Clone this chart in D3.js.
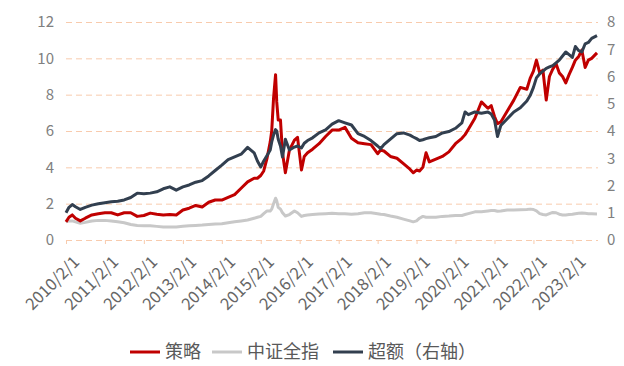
<!DOCTYPE html>
<html>
<head>
<meta charset="utf-8">
<script src="https://cdn.jsdelivr.net/npm/d3@7"></script>
<style>
  body { margin: 0; background: #fff; }
  text { font-family: "Noto Sans CJK SC", "Noto Sans", sans-serif; }
</style>
</head>
<body>
<div class="chart"></div>
<script>
// values (strategy and CSI on left axis, excess on right axis)
var dates = [
  "2010-02-01","2010-03-01","2010-04-01","2010-05-01","2010-06-15","2010-08-01","2010-10-01","2010-12-01",
  "2011-02-01","2011-04-01","2011-06-01","2011-08-01","2011-10-01","2011-12-01",
  "2012-02-01","2012-04-01","2012-06-01","2012-08-01","2012-10-01","2012-12-01",
  "2013-02-01","2013-04-01","2013-06-01","2013-08-01","2013-10-01","2013-12-01",
  "2014-02-01","2014-04-01","2014-06-01","2014-08-01","2014-10-01","2014-12-01",
  "2015-01-01","2015-02-01","2015-03-01","2015-04-01","2015-05-01","2015-05-15","2015-06-01","2015-06-20",
  "2015-07-01","2015-07-15","2015-08-05","2015-08-24","2015-09-20","2015-10-28","2015-12-14",
  "2016-01-12","2016-02-18","2016-03-15","2016-04-15","2016-06-01","2016-08-01","2016-10-01","2016-12-01",
  "2017-02-01","2017-04-01","2017-06-01","2017-08-01","2017-10-01","2017-12-01",
  "2018-02-01","2018-03-01","2018-04-01","2018-06-01","2018-08-01","2018-10-01","2018-12-01",
  "2019-01-01","2019-02-01","2019-03-01","2019-04-01","2019-05-01","2019-06-01","2019-08-01","2019-10-01","2019-12-01",
  "2020-02-01","2020-04-01","2020-05-01","2020-06-01","2020-08-01","2020-10-01","2020-12-01",
  "2021-01-01","2021-02-01","2021-03-01","2021-04-01","2021-06-01","2021-08-01","2021-10-01","2021-12-01",
  "2022-01-01","2022-02-01","2022-03-01","2022-04-01","2022-05-01","2022-06-01","2022-07-01","2022-08-01",
  "2022-09-01","2022-10-01","2022-11-01","2022-12-01",
  "2023-01-01","2023-02-01","2023-03-01","2023-04-01","2023-05-01","2023-06-01","2023-07-01","2023-08-01","2023-09-20"
];

var strategy = [
  1.0, 1.25, 1.38, 1.2, 1.05, 1.2, 1.38, 1.45,
  1.5, 1.5, 1.38, 1.5, 1.5, 1.3,
  1.35, 1.48, 1.42, 1.38, 1.4, 1.38,
  1.65, 1.75, 1.9, 1.82, 2.08, 2.2,
  2.2, 2.35, 2.5, 2.85, 3.2, 3.4,
  3.4, 3.55, 3.8, 4.5, 5.4, 6.0, 7.8, 9.1,
  7.6, 6.6, 6.6, 4.8, 3.7, 4.95, 5.5,
  5.65, 3.85, 4.6, 4.8, 5.0, 5.3, 5.7, 6.05,
  6.05, 6.2, 5.6, 5.35, 5.3, 5.25,
  4.75, 4.95, 4.9, 4.6, 4.5, 4.2, 3.9,
  3.7, 3.85, 3.8, 4.0, 4.8, 4.3, 4.45, 4.6, 4.85,
  5.3, 5.6, 5.8, 6.1, 6.7, 7.6, 7.25,
  7.4, 6.8, 6.4, 6.5, 7.1, 7.7, 8.4, 8.3,
  8.9, 9.3, 9.9, 9.2, 9.35, 7.7, 9.0, 9.4,
  9.7, 9.2, 9.0, 8.65,
  9.1, 9.5, 9.9, 10.1, 10.45, 9.5, 9.9, 10.0, 10.3
];

var csiAll = [
  1.0, 1.05, 1.05, 1.0, 0.92, 0.97, 1.05, 1.08,
  1.08, 1.05, 1.0, 0.95, 0.85, 0.8,
  0.78, 0.78, 0.75, 0.72, 0.72, 0.72,
  0.76, 0.78, 0.8, 0.82, 0.85, 0.88,
  0.9, 0.95, 1.0, 1.05, 1.1, 1.2,
  1.25, 1.3, 1.45, 1.6, 1.6, 1.7, 2.0, 2.3,
  2.15, 1.8, 1.7, 1.5, 1.32, 1.4, 1.6,
  1.5, 1.3, 1.35, 1.38, 1.4, 1.43, 1.45, 1.47,
  1.45, 1.45, 1.42, 1.45, 1.5, 1.5,
  1.45, 1.42, 1.4, 1.32, 1.25, 1.15, 1.05,
  1.0, 1.05, 1.2, 1.3, 1.25, 1.25, 1.25, 1.3, 1.32,
  1.35, 1.35, 1.4, 1.45, 1.55, 1.55, 1.6,
  1.62, 1.62, 1.58, 1.6, 1.65, 1.65, 1.67, 1.68,
  1.7, 1.68, 1.6, 1.45, 1.4, 1.38, 1.45, 1.52,
  1.5, 1.42, 1.38, 1.38,
  1.4, 1.42, 1.45, 1.47, 1.48, 1.47, 1.45, 1.44, 1.43
];

var excess = [
  1.0, 1.2, 1.3, 1.22, 1.12, 1.2, 1.28, 1.33,
  1.37, 1.4, 1.42, 1.47, 1.56, 1.72,
  1.7, 1.72, 1.77, 1.88, 1.95, 1.83,
  1.95, 2.02, 2.12, 2.18, 2.35, 2.55,
  2.75, 2.95, 3.05, 3.15, 3.4, 3.2,
  2.9, 2.68, 2.9, 3.1, 3.3, 3.6, 3.85, 4.05,
  4.0, 3.7, 3.45, 3.05, 3.7, 3.3, 3.41,
  3.45, 3.38, 3.55, 3.65, 3.75, 3.93, 4.04, 4.25,
  4.38, 4.3, 4.22, 3.9, 3.8, 3.65,
  3.45, 3.35, 3.5, 3.7, 3.9, 3.93, 3.85,
  3.78, 3.72, 3.65, 3.68, 3.72, 3.75, 3.8, 3.93, 3.98,
  4.1, 4.3, 4.7, 4.6, 4.7, 4.65, 4.7,
  4.62, 4.4, 3.8, 4.2, 4.45, 4.7, 4.85, 5.1,
  5.3, 5.6, 5.95, 6.1, 6.2, 6.3, 6.35, 6.4,
  6.5, 6.6, 6.75, 6.9,
  6.8, 6.7, 7.1, 6.95, 6.9, 7.2, 7.25, 7.4, 7.5
];

var xTickLabels = ["2010/2/1","2011/2/1","2012/2/1","2013/2/1","2014/2/1","2015/2/1","2016/2/1",
  "2017/2/1","2018/2/1","2019/2/1","2020/2/1","2021/2/1","2022/2/1","2023/2/1"];
var leftTicks = [0, 2, 4, 6, 8, 10, 12];
var rightTicks = [0, 1, 2, 3, 4, 5, 6, 7, 8];
var seriesNames = ["策略", "中证全指", "超额（右轴）"];

var svgWidth = 624;
var svgHeight = 366;
var plotLeft = 66, plotRight = 597, plotTop = 22, plotBottom = 240;

var parseDate = d3.timeParse("%Y-%m-%d");
var parseTick = d3.timeParse("%Y/%m/%d");

var svg = d3.select(".chart")
  .append("svg")
  .attr("width", svgWidth)
  .attr("height", svgHeight);

var xScale = d3.scaleTime()
  .domain([parseDate(dates[0]), parseDate(dates[dates.length - 1])])
  .range([plotLeft, plotRight]);

var yLeft = d3.scaleLinear().domain([0, 12]).range([plotBottom, plotTop]);
var yRight = d3.scaleLinear().domain([0, 8]).range([plotBottom, plotTop]);

// dashed gridlines
var grid = svg.append("g")
  .attr("transform", `translate(${plotLeft}, 0)`)
  .call(d3.axisLeft(yLeft).tickValues(leftTicks).tickSize(-(plotRight - plotLeft + 1)).tickFormat(""));
grid.select(".domain").remove();
grid.selectAll("line")
  .attr("stroke", "#f8cbad")
  .attr("stroke-width", 1)
  .attr("stroke-dasharray", "6,4");

// bottom axis ticks + rotated labels
var tickDates = xTickLabels.map(function(s) { return parseTick(s); });
var xAxis = svg.append("g")
  .attr("transform", `translate(0, ${plotBottom})`)
  .call(d3.axisBottom(xScale).tickValues(tickDates).tickSize(4).tickFormat(function(d, i) { return xTickLabels[i]; }));
xAxis.select(".domain").remove();
xAxis.selectAll("line").attr("stroke", "#f8cbad");
xAxis.selectAll("text")
  .attr("x", 0)
  .attr("y", 0)
  .attr("dy", "0.35em")
  .attr("text-anchor", "end")
  .attr("transform", "translate(10, 19) rotate(-45)")
  .attr("fill", "#666")
  .style("font-size", "16.5px");

// left axis labels
var leftAxis = svg.append("g")
  .attr("transform", `translate(${plotLeft}, 0)`)
  .call(d3.axisLeft(yLeft).tickValues(leftTicks).tickSize(0).tickPadding(12));
leftAxis.select(".domain").remove();
leftAxis.selectAll("text").attr("fill", "#808080").style("font-size", "15px");

// right axis labels
var rightAxis = svg.append("g")
  .attr("transform", `translate(${plotRight}, 0)`)
  .call(d3.axisRight(yRight).tickValues(rightTicks).tickSize(0).tickPadding(10));
rightAxis.select(".domain").remove();
rightAxis.selectAll("text").attr("fill", "#808080").style("font-size", "15px");

// lines
function makeLine(values, yScale) {
  return d3.line()
    .x(function(d, i) { return xScale(parseDate(dates[i])); })
    .y(function(d) { return yScale(d); })(values);
}

svg.append("path").attr("d", makeLine(csiAll, yLeft))
  .attr("fill", "none").attr("stroke", "#c8c8c8").attr("stroke-width", 3).attr("stroke-linejoin", "round");
svg.append("path").attr("d", makeLine(strategy, yLeft))
  .attr("fill", "none").attr("stroke", "#c00000").attr("stroke-width", 3).attr("stroke-linejoin", "round");
svg.append("path").attr("d", makeLine(excess, yRight))
  .attr("fill", "none").attr("stroke", "#323f4f").attr("stroke-width", 3).attr("stroke-linejoin", "round");

// legend
var legendColors = ["#c00000", "#c8c8c8", "#323f4f"];
var legendX = [130, 212, 333];
var legend = svg.append("g").attr("transform", "translate(0, 352)");
seriesNames.forEach(function(name, i) {
  legend.append("line")
    .attr("x1", legendX[i]).attr("x2", legendX[i] + 30)
    .attr("y1", 0).attr("y2", 0)
    .attr("stroke", legendColors[i]).attr("stroke-width", 3);
  legend.append("text")
    .attr("x", legendX[i] + 35)
    .attr("y", 0)
    .attr("dy", "0.35em")
    .attr("fill", "#595959")
    .style("font-size", "18px")
    .text(name);
});
</script>
</body>
</html>
